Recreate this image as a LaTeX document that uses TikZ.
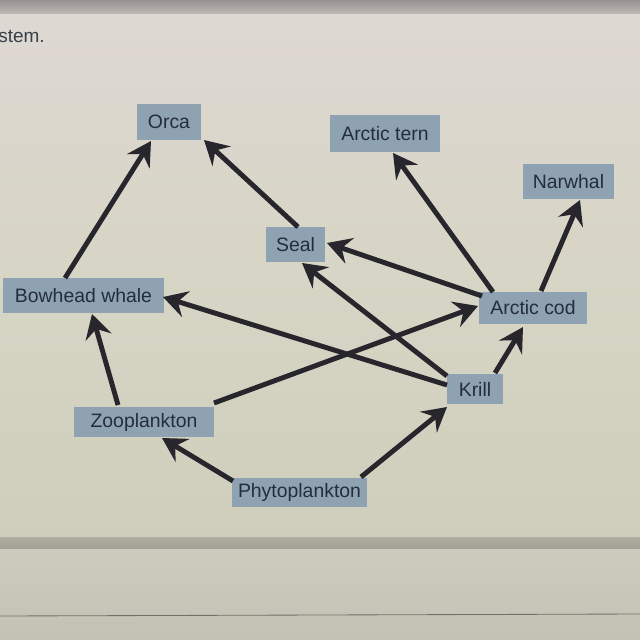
\documentclass[tikz,border=0pt]{standalone}
\usepackage{fontspec}
\setmainfont{Liberation Sans}
\usetikzlibrary{arrows.meta,calc}
\definecolor{boxfill}{RGB}{142,162,178}
\definecolor{boxtext}{RGB}{36,46,58}
\definecolor{arrowcol}{RGB}{38,38,44}
\definecolor{bgtop}{RGB}{222,216,211}
\definecolor{bgmid}{RGB}{215,213,197}
\definecolor{bgbot}{RGB}{207,206,188}
\definecolor{topband}{RGB}{188,183,181}
\definecolor{lowband}{RGB}{160,160,148}
\definecolor{lowarea}{RGB}{204,204,190}
\begin{document}
\begin{tikzpicture}[x=0.025cm,y=-0.025cm,
  foodbox/.style 2 args={fill=boxfill,text=boxtext,inner sep=0pt,
    minimum width={#1*0.025cm},minimum height={#2*0.025cm},
    font=\fontsize{13.8}{16}\selectfont},
  feeds/.style={draw=arrowcol,line width=3.5pt,
    -{Stealth[length=17pt,width=19pt,inset=6pt]}}]
\useasboundingbox (0,0) rectangle (640,640);
% background (photo of a screen)
\shade[top color=bgtop,bottom color=bgbot,middle color=bgmid] (0,0) rectangle (640,545);
\shade[top color=topband!80!black,bottom color=topband] (0,0) rectangle (640,13);
\shade[top color=lowband!70!bgbot,bottom color=lowband] (0,537) rectangle (640,549);
\shade[top color=lowarea,bottom color=lowarea!95!black] (0,549) rectangle (640,640);
\draw[draw=lowband!70!black,line width=0.6pt] (0,616) -- (640,614);
\node[anchor=west,text=boxtext!90!bgtop,font=\fontsize{13.5}{16}\selectfont,inner sep=0pt] (caption) at (-2,36) {stem.};
% nodes
\node[foodbox={64}{36}] (orca) at (169,122) {Orca};
\node[foodbox={110}{37}] (tern) at (385,133.5) {Arctic tern};
\node[foodbox={91}{35}] (narwhal) at (568.5,181.5) {Narwhal};
\node[foodbox={59}{35}] (seal) at (295.5,244.5) {Seal};
\node[foodbox={161}{35}] (bowhead) at (83.5,295.5) {Bowhead whale};
\node[foodbox={108}{32}] (cod) at (533,308) {Arctic cod};
\node[foodbox={56}{30}] (krill) at (475,389) {Krill};
\node[foodbox={140}{30}] (zoo) at (144,422) {Zooplankton};
\node[foodbox={135}{29}] (phyto) at (299.5,492.5) {Phytoplankton};
% connectors
\draw[feeds] ($(bowhead)+(-18.5,-17.5)$) -- ($(orca)+(-18,19)$);
\draw[feeds] ($(seal)+(2.5,-17.5)$) -- ($(orca)+(35,18)$);
\draw[feeds] ($(cod)+(-40,-16)$) -- ($(tern)+(8,19.5)$);
\draw[feeds] ($(cod)+(8,-17)$) -- ($(narwhal)+(11.5,18.5)$);
\draw[feeds] ($(cod)+(-51,-12)$) -- ($(seal)+(31.5,-1.5)$);
\draw[feeds] ($(krill)+(-28,-13)$) -- ($(seal)+(6.5,18.5)$);
\draw[feeds] ($(krill)+(-28,-4)$) -- ($(bowhead)+(79.5,1.5)$);
\draw[feeds] ($(zoo)+(70,-19)$) -- ($(cod)+(-55,-2)$);
\draw[feeds] ($(zoo)+(-26,-17)$) -- ($(bowhead)+(8.5,18.5)$);
\draw[feeds] ($(krill)+(20,-16)$) -- ($(cod)+(-10,19)$);
\draw[feeds] ($(phyto)+(-66.5,-11.5)$) -- ($(zoo)+(18,16)$);
\draw[feeds] ($(phyto)+(61.5,-15.5)$) -- ($(krill)+(-28,18)$);
\end{tikzpicture}
\end{document}
